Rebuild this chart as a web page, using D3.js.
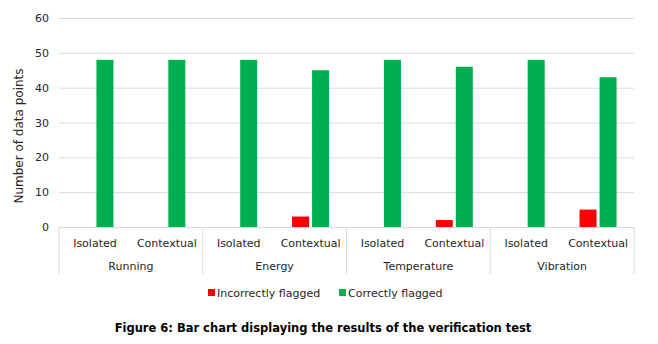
<!DOCTYPE html>
<html>
<head>
<meta charset="utf-8">
<script src="https://cdn.jsdelivr.net/npm/d3@7"></script>
<style>
  body { margin: 0; background: #fff; }
  text { font-family: "DejaVu Sans", Verdana, sans-serif; fill: #262626; }
</style>
</head>
<body>
<svg id="chart" width="658" height="344"></svg>
<script>
const groups = ["Running", "Energy", "Temperature", "Vibration"];
const types = ["Isolated", "Contextual"];
const series = ["Incorrectly flagged", "Correctly flagged"];
const colors = ["#ff0000", "#00b050"];
// values per category, in order Running/Isolated, Running/Contextual, Energy/Isolated ...
const incorrect = [0, 0, 0, 3, 0, 2, 0, 5];
const correct = [48, 48, 48, 45, 48, 46, 48, 43];
const yTicks = [0, 10, 20, 30, 40, 50, 60];

const svg = d3.select("#chart");
const plotLeft = 59, plotRight = 634, plotTop = 18, plotBottom = 227;

let cats = [];
groups.forEach(g => types.forEach(t => cats.push(g + "|" + t)));

const x = d3.scaleBand().domain(cats).range([plotLeft, plotRight]).padding(0);
const y = d3.scaleLinear().domain([0, 60]).range([plotBottom, plotTop]);
const inner = d3.scaleBand().domain(series).range([0, 37]).paddingInner(0.15);

// gridlines
svg.append("g")
    .selectAll("line")
    .data(yTicks.filter(d => d > 0))
    .enter()
    .append("line")
    .attr("x1", plotLeft).attr("x2", plotRight)
    .attr("y1", d => y(d) + 0.5).attr("y2", d => y(d) + 0.5)
    .style("stroke", "#d9d9d9")
    .style("stroke-width", 1);

// y labels
svg.append("g")
    .selectAll("text")
    .data(yTicks)
    .enter()
    .append("text")
    .attr("x", plotLeft - 10)
    .attr("y", d => y(d) + 4)
    .attr("text-anchor", "end")
    .style("font-size", "11px")
    .text(d => d);

svg.append("text")
    .attr("transform", "translate(23,136) rotate(-90)")
    .attr("text-anchor", "middle")
    .style("font-size", "12px")
    .text("Number of data points");

// bars
const rows = cats.map((c, i) => ({cat: c, vals: [incorrect[i], correct[i]]}));
const barG = svg.append("g")
    .selectAll("g")
    .data(rows)
    .enter()
    .append("g")
    .attr("transform", d => "translate(" + (x(d.cat) + x.bandwidth() / 2 - 18.5) + ",0)");

barG.selectAll("rect")
    .data(d => d.vals.map((v, j) => ({s: series[j], v: v, j: j})))
    .enter()
    .append("rect")
    .attr("x", d => inner(d.s))
    .attr("width", inner.bandwidth())
    .attr("y", d => y(d.v))
    .attr("height", d => y(0) - y(d.v))
    .attr("fill", d => colors[d.j]);

// category axis
svg.append("line")
    .attr("x1", plotLeft).attr("x2", plotRight)
    .attr("y1", plotBottom + 0.5).attr("y2", plotBottom + 0.5)
    .style("stroke", "#d9d9d9");

const groupW = x.bandwidth() * types.length;
svg.append("g")
    .selectAll("line")
    .data(d3.range(groups.length + 1))
    .enter()
    .append("line")
    .attr("x1", i => plotLeft + i * groupW)
    .attr("x2", i => plotLeft + i * groupW)
    .attr("y1", plotBottom)
    .attr("y2", 274)
    .style("stroke", "#d9d9d9");

svg.append("g")
    .selectAll("text")
    .data(cats)
    .enter()
    .append("text")
    .attr("x", d => x(d) + x.bandwidth() / 2)
    .attr("y", 247)
    .attr("text-anchor", "middle")
    .style("font-size", "11px")
    .text(d => d.split("|")[1]);

svg.append("g")
    .selectAll("text")
    .data(groups)
    .enter()
    .append("text")
    .attr("x", (d, i) => plotLeft + i * groupW + groupW / 2)
    .attr("y", 270)
    .attr("text-anchor", "middle")
    .style("font-size", "11px")
    .text(d => d);

// legend
const legendX = [208, 339];
const leg = svg.append("g")
    .selectAll("g")
    .data(series)
    .enter()
    .append("g")
    .attr("transform", (d, i) => "translate(" + legendX[i] + ",289)");
leg.append("rect")
    .attr("width", 7).attr("height", 7)
    .attr("fill", (d, i) => colors[i]);
leg.append("text")
    .attr("x", 9).attr("y", 7.5)
    .style("font-size", "11px")
    .text(d => d);

// caption
svg.append("text")
    .attr("x", 323)
    .attr("y", 332)
    .attr("text-anchor", "middle")
    .style("font-size", "11.5px")
    .style("font-weight", "bold")
    .style("fill", "#000")
    .text("Figure 6: Bar chart displaying the results of the verification test");
</script>
</body>
</html>
